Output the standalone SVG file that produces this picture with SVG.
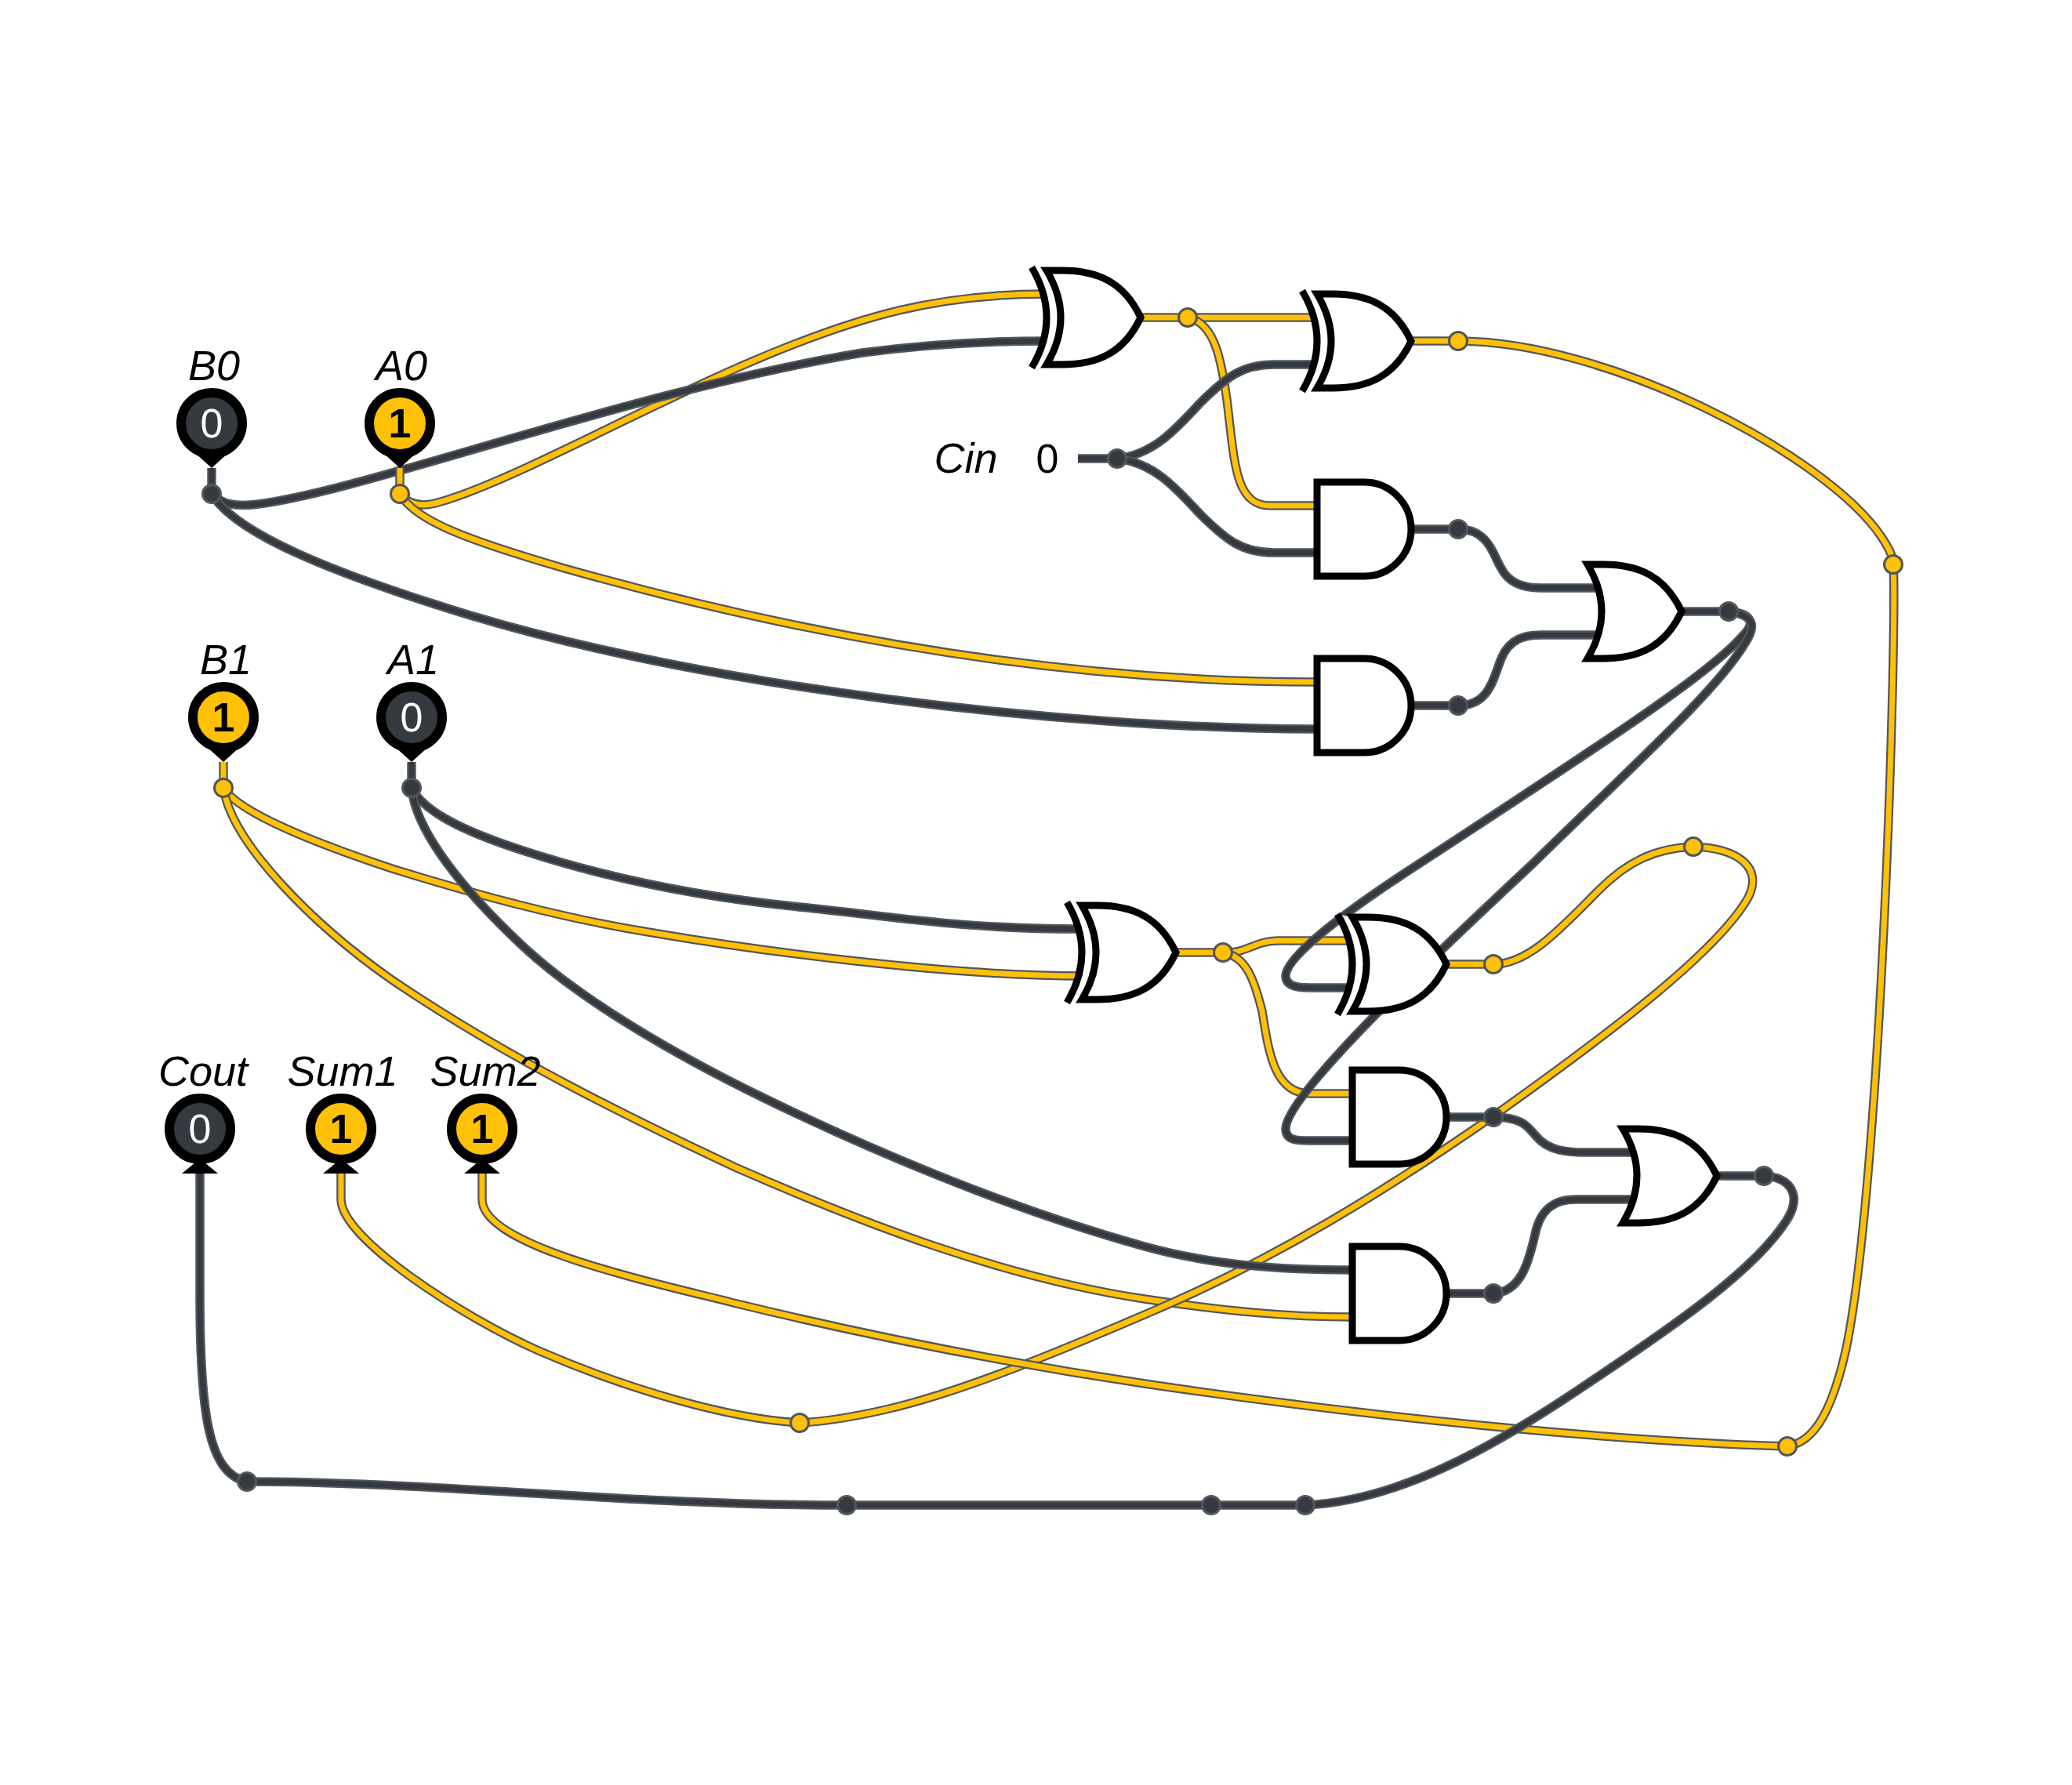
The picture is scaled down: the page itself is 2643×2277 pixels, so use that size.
<svg xmlns="http://www.w3.org/2000/svg" width="2643" height="2277" viewBox="0 0 2643 2277">
<style>
.lbl{font-family:"Liberation Sans",Arial,sans-serif;font-size:54px;font-style:italic;text-anchor:middle;fill:#000}
.val{font-family:"Liberation Sans",Arial,sans-serif;font-size:52px;text-anchor:middle}
.v0{fill:#fff}.v1{fill:#000;font-weight:700}.vc{fill:#000}
.o{fill:none;stroke:#53565a;stroke-width:11.5}
.d{fill:none;stroke:#343a40;stroke-width:7}
.y{fill:none;stroke:#ffc107;stroke-width:7}
.jd{fill:#343a40;stroke:#53565a;stroke-width:3}
.jy{fill:#ffc107;stroke:#53565a;stroke-width:3}
.ring{stroke:#000;stroke-width:12}
.pd{fill:#343a40}.py{fill:#ffc107}
.gate{fill:#fff;stroke:#000;stroke-width:9}
.gap{fill:#fff;stroke:none}
.arc{fill:none;stroke:#000;stroke-width:9}
</style>
<defs>
<path id="andg" class="gate" d="M0 -60H60A60 60 0 0 1 60 60H0Z"/>
<path id="org" class="gate" d="M0 -60H20C65 -60 99 -45 120 0C99 45 65 60 20 60H0Q36 0 0 -60Z"/>
<g id="xorg">
<path class="gap" d="M-19 -64Q19 0 -19 64L0 60Q36 0 0 -60Z"/>
<path class="arc" d="M-19 -64Q19 0 -19 64"/>
<path class="gate" d="M0 -60H20C65 -60 99 -45 120 0C99 45 65 60 20 60H0Q36 0 0 -60Z"/>
</g>
<polygon id="drop" points="-22,37 0,57 22,37" fill="#000"/>
<polygon id="head" points="-23,57 23,57 0,38" fill="#000"/>
</defs>
<g id="connectors">
<g id="wires-high">
<path class="o" d="M510 630C520 642 535 647 555 642C640 620 800 530 950 465C1100 400 1200 375 1335 375"/><path class="y" d="M510 630C520 642 535 647 555 642C640 620 800 530 950 465C1100 400 1200 375 1335 375"/>
<path class="o" d="M510 630C530 665 600 690 720 725C950 790 1300 870 1680 870"/><path class="y" d="M510 630C530 665 600 690 720 725C950 790 1300 870 1680 870"/>
<path class="o" d="M285 1005C300 1030 370 1065 500 1108C610 1142 720 1172 833 1190C950 1210 1200 1245 1380 1245"/><path class="y" d="M285 1005C300 1030 370 1065 500 1108C610 1142 720 1172 833 1190C950 1210 1200 1245 1380 1245"/>
<path class="o" d="M285 1005C295 1075 400 1180 500 1250C640 1345 790 1420 940 1490C1100 1560 1280 1630 1460 1657C1560 1672 1640 1680 1725 1680"/><path class="y" d="M285 1005C295 1075 400 1180 500 1250C640 1345 790 1420 940 1490C1100 1560 1280 1630 1460 1657C1560 1672 1640 1680 1725 1680"/>
<path class="o" d="M285 972V1005"/><path class="y" d="M285 972V1005"/>
<path class="o" d="M1457 405H1680"/><path class="y" d="M1457 405H1680"/>
<path class="o" d="M1515 405C1550 412 1558 460 1565 510C1575 590 1575 645 1620 645H1680"/><path class="y" d="M1515 405C1550 412 1558 460 1565 510C1575 590 1575 645 1620 645H1680"/>
<path class="o" d="M1500 1215H1560"/><path class="y" d="M1500 1215H1560"/>
<path class="o" d="M1560 1215C1590 1217 1600 1200 1630 1200H1725"/><path class="y" d="M1560 1215C1590 1217 1600 1200 1630 1200H1725"/>
<path class="o" d="M1560 1215C1590 1220 1600 1250 1610 1290C1618 1340 1625 1395 1670 1395H1730"/><path class="y" d="M1560 1215C1590 1220 1600 1250 1610 1290C1618 1340 1625 1395 1670 1395H1730"/>
<path class="o" d="M1845 1230H1905C1950 1230 1990 1185 2040 1135C2075 1100 2110 1082 2160 1080"/><path class="y" d="M1845 1230H1905C1950 1230 1990 1185 2040 1135C2075 1100 2110 1082 2160 1080"/>
<path class="o" d="M2160 1080C2215 1082 2250 1105 2230 1145C2190 1215 2050 1320 1917 1415C1770 1518 1620 1610 1460 1677C1360 1720 1230 1775 1130 1798C1095 1806 1060 1813 1020 1815"/><path class="y" d="M2160 1080C2215 1082 2250 1105 2230 1145C2190 1215 2050 1320 1917 1415C1770 1518 1620 1610 1460 1677C1360 1720 1230 1775 1130 1798C1095 1806 1060 1813 1020 1815"/>
<path class="o" d="M1020 1815C930 1810 800 1772 687 1723C590 1680 435 1580 435 1530V1497"/><path class="y" d="M1020 1815C930 1810 800 1772 687 1723C590 1680 435 1580 435 1530V1497"/>
<path class="o" d="M1800 435H1860C2050 435 2330 580 2400 685C2410 700 2415 710 2415 720"/><path class="y" d="M1800 435H1860C2050 435 2330 580 2400 685C2410 700 2415 710 2415 720"/>
<path class="o" d="M2415 720C2420 800 2400 1500 2355 1720C2335 1810 2310 1840 2280 1845"/><path class="y" d="M2415 720C2420 800 2400 1500 2355 1720C2335 1810 2310 1840 2280 1845"/>
<path class="o" d="M2280 1845C2050 1838 1750 1808 1460 1765C1280 1738 1100 1702 940 1663C830 1635 615 1590 615 1530V1497"/><path class="y" d="M2280 1845C2050 1838 1750 1808 1460 1765C1280 1738 1100 1702 940 1663C830 1635 615 1590 615 1530V1497"/>
</g>
<g id="wires-low">
<path class="o" d="M270 597V630"/><path class="d" d="M270 597V630"/>
<path class="o" d="M270 630C283 643 300 647 330 643C470 625 800 500 1100 450C1200 437 1280 435 1335 435"/><path class="d" d="M270 630C283 643 300 647 330 643C470 625 800 500 1100 450C1200 437 1280 435 1335 435"/>
<path class="o" d="M270 630C300 680 420 730 600 785C900 875 1350 930 1680 930"/><path class="d" d="M270 630C300 680 420 730 600 785C900 875 1350 930 1680 930"/>
<path class="o" d="M525 972V1005"/><path class="d" d="M525 972V1005"/>
<path class="o" d="M525 1005C540 1035 590 1060 667 1085C780 1122 900 1145 1020 1157C1140 1169 1220 1185 1380 1185"/><path class="d" d="M525 1005C540 1035 590 1060 667 1085C780 1122 900 1145 1020 1157C1140 1169 1220 1185 1380 1185"/>
<path class="o" d="M525 1005C530 1060 590 1135 667 1207C740 1275 860 1345 973 1400C1100 1462 1280 1540 1460 1590C1550 1615 1640 1620 1725 1620"/><path class="d" d="M525 1005C530 1060 590 1135 667 1207C740 1275 860 1345 973 1400C1100 1462 1280 1540 1460 1590C1550 1615 1640 1620 1725 1620"/>
<path class="o" d="M1375 585H1425"/><path class="d" d="M1375 585H1425"/>
<path class="o" d="M1425 585C1470 580 1498 550 1530 515C1565 480 1585 465 1625 465H1680"/><path class="d" d="M1425 585C1470 580 1498 550 1530 515C1565 480 1585 465 1625 465H1680"/>
<path class="o" d="M1425 585C1470 590 1498 620 1530 655C1565 690 1585 705 1625 705H1680"/><path class="d" d="M1425 585C1470 590 1498 620 1530 655C1565 690 1585 705 1625 705H1680"/>
<path class="o" d="M1800 675H1860C1900 675 1905 710 1915 725C1925 745 1945 750 1965 750H2040"/><path class="d" d="M1800 675H1860C1900 675 1905 710 1915 725C1925 745 1945 750 1965 750H2040"/>
<path class="o" d="M1800 900H1860C1900 900 1905 865 1915 840C1925 815 1945 810 1965 810H2040"/><path class="d" d="M1800 900H1860C1900 900 1905 865 1915 840C1925 815 1945 810 1965 810H2040"/>
<path class="o" d="M2145 780H2205"/><path class="d" d="M2145 780H2205"/>
<path class="o" d="M2205 780C2235 782 2240 795 2222 812C2180 860 2050 945 1813 1100C1720 1160 1640 1220 1640 1245C1640 1258 1655 1260 1670 1260H1725"/><path class="d" d="M2205 780C2235 782 2240 795 2222 812C2180 860 2050 945 1813 1100C1720 1160 1640 1220 1640 1245C1640 1258 1655 1260 1670 1260H1725"/>
<path class="o" d="M2205 780C2240 785 2240 800 2225 822C2190 880 2090 970 1957 1100C1850 1200 1640 1395 1640 1440C1640 1455 1655 1455 1670 1455H1730"/><path class="d" d="M2205 780C2240 785 2240 800 2225 822C2190 880 2090 970 1957 1100C1850 1200 1640 1395 1640 1440C1640 1455 1655 1455 1670 1455H1730"/>
<path class="o" d="M1845 1425H1905C1945 1425 1950 1440 1960 1450C1975 1468 2000 1470 2020 1470H2085"/><path class="d" d="M1845 1425H1905C1945 1425 1950 1440 1960 1450C1975 1468 2000 1470 2020 1470H2085"/>
<path class="o" d="M1845 1650H1905C1940 1648 1950 1610 1958 1575C1965 1540 1985 1530 2010 1530H2085"/><path class="d" d="M1845 1650H1905C1940 1648 1950 1610 1958 1575C1965 1540 1985 1530 2010 1530H2085"/>
<path class="o" d="M2190 1500H2250C2285 1502 2298 1525 2280 1555C2240 1620 2130 1695 2025 1765C1900 1850 1780 1915 1665 1920"/><path class="d" d="M2190 1500H2250C2285 1502 2298 1525 2280 1555C2240 1620 2130 1695 2025 1765C1900 1850 1780 1915 1665 1920"/>
<path class="o" d="M1665 1920H1080"/><path class="d" d="M1665 1920H1080"/>
<path class="o" d="M1080 1920C800 1920 550 1890 315 1890"/><path class="d" d="M1080 1920C800 1920 550 1890 315 1890"/>
<path class="o" d="M315 1890C265 1880 255 1800 255 1650V1497"/><path class="d" d="M315 1890C265 1880 255 1800 255 1650V1497"/>
</g>
<path class="o" d="M510 597V630"/><path class="y" d="M510 597V630"/>
<g id="junctions">
<circle class="jd" cx="270" cy="630" r="11.5"/><circle class="jy" cx="510" cy="630" r="11.5"/>
<circle class="jy" cx="285" cy="1005" r="11.5"/><circle class="jd" cx="525" cy="1005" r="11.5"/>
<circle class="jd" cx="1425" cy="585" r="11.5"/><circle class="jy" cx="1515" cy="405" r="11.5"/>
<circle class="jy" cx="1860" cy="435" r="11.5"/><circle class="jd" cx="1860" cy="675" r="11.5"/>
<circle class="jd" cx="1860" cy="900" r="11.5"/><circle class="jd" cx="2205" cy="780" r="11.5"/>
<circle class="jy" cx="1560" cy="1215" r="11.5"/><circle class="jy" cx="1905" cy="1230" r="11.5"/>
<circle class="jd" cx="1905" cy="1425" r="11.5"/><circle class="jd" cx="1905" cy="1650" r="11.5"/>
<circle class="jd" cx="2250" cy="1500" r="11.5"/><circle class="jy" cx="2160" cy="1080" r="11.5"/>
<circle class="jy" cx="2415" cy="720" r="11.5"/><circle class="jy" cx="2280" cy="1845" r="11.5"/>
<circle class="jy" cx="1020" cy="1815" r="11.5"/><circle class="jd" cx="315" cy="1890" r="11.5"/>
<circle class="jd" cx="1080" cy="1920" r="11.5"/><circle class="jd" cx="1545" cy="1920" r="11.5"/>
<circle class="jd" cx="1665" cy="1920" r="11.5"/>
</g>
</g>
<g id="xor1"><use href="#xorg" x="1335" y="405"/></g>
<g id="xor2"><use href="#xorg" x="1680" y="435"/></g>
<g id="and1"><use href="#andg" x="1680" y="675"/></g>
<g id="and2"><use href="#andg" x="1680" y="900"/></g>
<g id="or1"><use href="#org" x="2025" y="780"/></g>
<g id="xor3"><use href="#xorg" x="1380" y="1215"/></g>
<g id="xor4"><use href="#xorg" x="1725" y="1230"/></g>
<g id="and3"><use href="#andg" x="1725" y="1425"/></g>
<g id="and4"><use href="#andg" x="1725" y="1650"/></g>
<g id="or2"><use href="#org" x="2070" y="1500"/></g>
<g id="pin-B0"><text class="lbl" x="273" y="485">B0</text><use href="#drop" x="270" y="540"/><circle class="ring pd" cx="270" cy="540" r="39"/><text class="val v0" x="270" y="558">0</text></g>
<g id="pin-A0"><text class="lbl" x="512" y="485">A0</text><use href="#drop" x="510" y="540"/><circle class="ring py" cx="510" cy="540" r="39"/><text class="val v1" x="510" y="558">1</text></g>
<g id="pin-B1"><text class="lbl" x="288" y="860">B1</text><use href="#drop" x="285" y="915"/><circle class="ring py" cx="285" cy="915" r="39"/><text class="val v1" x="285" y="933">1</text></g>
<g id="pin-A1"><text class="lbl" x="527" y="860">A1</text><use href="#drop" x="525" y="915"/><circle class="ring pd" cx="525" cy="915" r="39"/><text class="val v0" x="525" y="933">0</text></g>
<g id="pin-Cin"><text class="lbl" x="1232" y="603">Cin</text><text class="val vc" x="1336" y="603">0</text></g>
<g id="pin-Cout"><text class="lbl" x="259" y="1385">Cout</text><use href="#head" x="255" y="1440"/><circle class="ring pd" cx="255" cy="1440" r="39"/><text class="val v0" x="255" y="1458">0</text></g>
<g id="pin-Sum1"><text class="lbl" x="437" y="1385">Sum1</text><use href="#head" x="435" y="1440"/><circle class="ring py" cx="435" cy="1440" r="39"/><text class="val v1" x="435" y="1458">1</text></g>
<g id="pin-Sum2"><text class="lbl" x="619" y="1385">Sum2</text><use href="#head" x="615" y="1440"/><circle class="ring py" cx="615" cy="1440" r="39"/><text class="val v1" x="615" y="1458">1</text></g>
</svg>
